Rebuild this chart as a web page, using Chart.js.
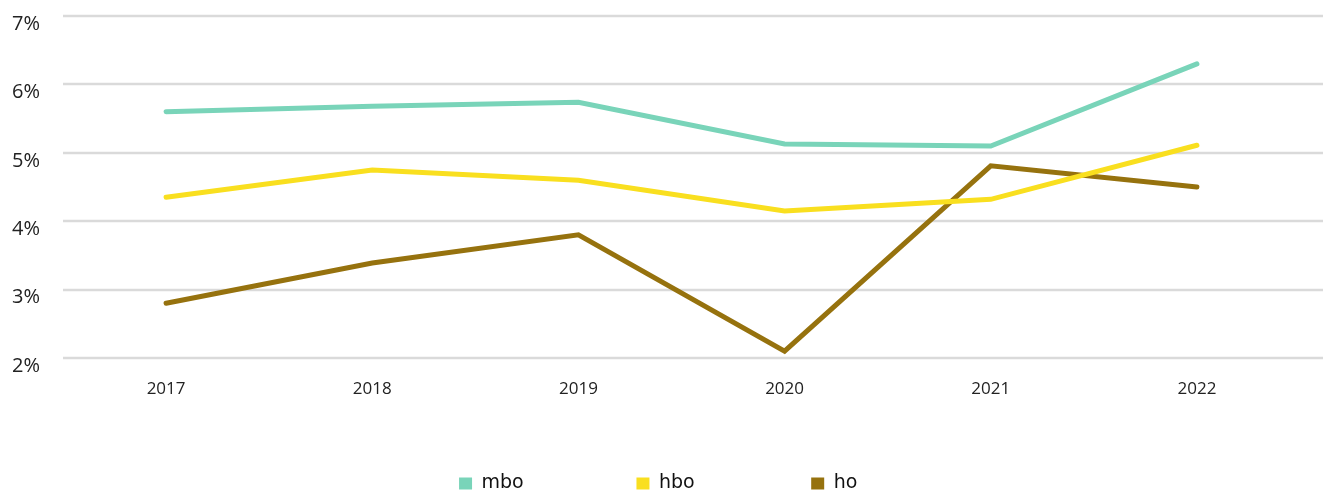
<!DOCTYPE html>
<html>
<head>
<meta charset="utf-8">
<script src="https://cdn.jsdelivr.net/npm/chart.js@4.4.0/dist/chart.umd.min.js"></script>
<style>
html, body { margin: 0; padding: 0; background: #fff; }
#wrap { width: 1323px; height: 496px; }
</style>
</head>
<body>
<div id="wrap"><canvas id="myChart"></canvas></div>
<script>
var years = ['2017', '2018', '2019', '2020', '2021', '2022'];
var mbo = [5.60, 5.68, 5.74, 5.13, 5.10, 6.30];
var hbo = [4.35, 4.75, 4.60, 4.15, 4.32, 5.11];
var ho = [2.80, 3.39, 3.80, 2.10, 4.81, 4.50];
var yTicks = [2, 3, 4, 5, 6, 7];

var colors = { mbo: '#79d4b9', hbo: '#f9df1f', ho: '#96720e' };
var legendFont = '19px "DejaVu Sans"';
var legendWidths = [152.5, 148.5, 464.5];

// horizontal grid lines that run on to the right edge of the canvas
var gridToEdge = {
    id: 'gridToEdge',
    beforeDatasetsDraw: function(chart) {
        var ctx = chart.ctx, y = chart.scales.y, area = chart.chartArea;
        ctx.save();
        ctx.strokeStyle = '#dadada';
        ctx.lineWidth = 2.5;
        y.ticks.forEach(function(t) {
            var py = Math.round(y.getPixelForValue(t.value));
            ctx.beginPath();
            ctx.moveTo(area.left, py);
            ctx.lineTo(chart.width, py);
            ctx.stroke();
        });
        ctx.restore();
    }
};

function line(label, data, color) {
    return {
        label: label,
        data: data,
        borderColor: color,
        backgroundColor: color,
        borderWidth: 5,
        borderCapStyle: 'round',
        pointRadius: 0,
        pointHoverRadius: 0,
        tension: 0
    };
}

// pad legend text with spaces so the items sit at fixed distances
function padText(c, text, target) {
    while (c.measureText(text + ' ').width <= target) text += ' ';
    while (c.measureText(text + '\u2009').width <= target) text += '\u2009';
    return text;
}

var ctx = document.getElementById('myChart').getContext('2d');
var myChart = new Chart(ctx, {
    type: 'line',
    data: {
        labels: years,
        datasets: [
            line('mbo', mbo, colors.mbo),
            line('hbo', hbo, colors.hbo),
            line('ho', ho, colors.ho)
        ]
    },
    options: {
        responsive: true,
        maintainAspectRatio: false,
        animation: false,
        layout: { padding: { top: 16, left: 12, right: 23, bottom: -7 } },
        scales: {
            x: {
                offset: true,
                grid: { display: false },
                border: { display: false },
                ticks: {
                    color: '#222',
                    padding: 13,
                    font: { family: '"Open Sans"', size: 17 }
                },
                afterFit: function(scale) { scale.height = 112; }
            },
            y: {
                min: yTicks[0],
                max: yTicks[yTicks.length - 1],
                grid: { display: false },
                border: { display: false },
                ticks: {
                    stepSize: 1,
                    color: '#222',
                    crossAlign: 'far',
                    labelOffset: 8,
                    font: { family: '"Open Sans"', size: 20 },
                    callback: function(v) { return v + '%'; }
                },
                afterFit: function(scale) { scale.width = 51; }
            }
        },
        plugins: {
            tooltip: { enabled: false },
            legend: {
                position: 'bottom',
                align: 'end',
                labels: {
                    boxWidth: 13,
                    boxHeight: 12,
                    padding: 4,
                    color: '#111',
                    font: { family: '"DejaVu Sans"', size: 19 },
                    generateLabels: function(chart) {
                        var items = Chart.defaults.plugins.legend.labels.generateLabels(chart);
                        var c = chart.ctx;
                        c.save();
                        c.font = legendFont;
                        items.forEach(function(it, i) {
                            it.lineWidth = 0;
                            it.text = padText(c, it.text, legendWidths[i]);
                        });
                        c.restore();
                        return items;
                    }
                }
            }
        }
    },
    plugins: [gridToEdge]
});
</script>
</body>
</html>
